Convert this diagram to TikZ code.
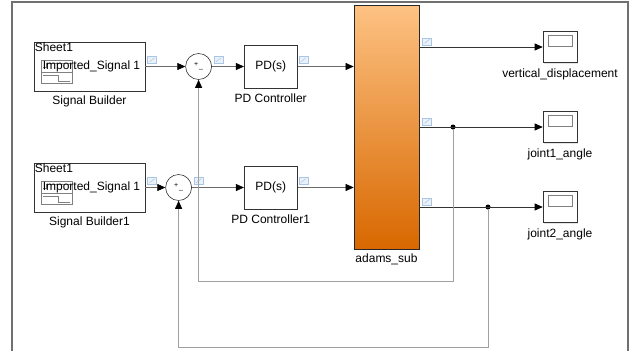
\documentclass[tikz,border=0pt]{standalone}
\usepackage{fontspec}
\setmainfont{Liberation Sans}
\usetikzlibrary{arrows.meta, positioning, shadows}
\definecolor{framegray}{HTML}{707070}
\definecolor{linegray}{HTML}{6A6A6A}
\definecolor{outgray}{HTML}{333333}
\definecolor{fbgray}{HTML}{A0A0A0}
\definecolor{portblue}{HTML}{A9C6E6}
\definecolor{adamstop}{HTML}{FDC283}
\definecolor{adamsbot}{HTML}{D86800}
\tikzset{
    block/.style={
        rectangle,
        draw=black!80,
        fill=white,
        line width=0.6pt,
        minimum width=53pt,
        minimum height=43pt,
        font=\fontsize{12}{14}\selectfont,
        drop shadow={opacity=0.2, shadow xshift=1.2pt, shadow yshift=-1.2pt}
    },
    sigbuilder/.style={
        block,
        minimum width=111pt,
        minimum height=49pt,
        path picture={
            \draw[gray, line width=0.5pt] ([shift={(7,18)}]path picture bounding box.north west) rectangle ([shift={(38,41)}]path picture bounding box.north west);
            \draw[gray, line width=0.5pt] ([shift={(7,30)}]path picture bounding box.north west) -- ([shift={(38,30)}]path picture bounding box.north west);
            \draw[gray, line width=0.5pt] ([shift={(9,25)}]path picture bounding box.north west) -- ([shift={(12,25)}]path picture bounding box.north west) -- ([shift={(12,21)}]path picture bounding box.north west) -- ([shift={(36,21)}]path picture bounding box.north west);
            \draw[gray, line width=0.5pt] ([shift={(9,33)}]path picture bounding box.north west) -- ([shift={(24,33)}]path picture bounding box.north west) -- ([shift={(24,39)}]path picture bounding box.north west) -- ([shift={(36,39)}]path picture bounding box.north west);
        }
    },
    scopebox/.style={
        block,
        minimum width=34pt,
        minimum height=31pt,
        path picture={
            \draw[gray, line width=0.6pt] ([shift={(5,4)}]path picture bounding box.north west) rectangle ([shift={(29,15)}]path picture bounding box.north west);
        }
    },
    adamsblock/.style={
        rectangle,
        draw=black!85,
        line width=0.7pt,
        top color=adamstop,
        bottom color=adamsbot,
        minimum width=65pt,
        minimum height=244pt,
        drop shadow={opacity=0.2, shadow xshift=1.2pt, shadow yshift=-1.2pt}
    },
    sum/.style={
        circle,
        draw=black!80,
        fill=white,
        line width=0.6pt,
        minimum size=26pt,
        inner sep=0pt,
        font=\fontsize{7}{8}\selectfont
    },
    port/.style={
        rectangle,
        draw=portblue,
        fill=portblue!25,
        line width=0.5pt,
        minimum width=9pt,
        minimum height=7pt,
        inner sep=0pt,
        path picture={
            \draw[portblue, line width=0.5pt] ([shift={(2,-1.5)}]path picture bounding box.south west) -- ([shift={(-2,1.5)}]path picture bounding box.north east);
        }
    },
    caption/.style={font=\fontsize{12}{14}\selectfont, inner sep=1pt},
    dot/.style={circle, fill=black, minimum size=5pt, inner sep=0pt},
    arrow/.style={
        draw=linegray, line width=0.6pt,
        -{Triangle[length=8pt,width=7pt,color=black]}
    },
    outarrow/.style={arrow, draw=outgray},
    fbarrow/.style={arrow, draw=fbgray}
}

\begin{document}
\begin{tikzpicture}[x=1pt, y=-1pt]

\useasboundingbox (0,0) rectangle (634,351);
\draw[framegray, line width=1.2pt] (12,351) -- (12,2) -- (628,2) -- (628,351);

% first loop
\node (sb1) [sigbuilder] at (89.5,66.5) {};
\node (sheet1) [caption, anchor=north west] at (sb1.north west) {Sheet1};
\node (imp1) [caption] at ([xshift=2pt]sb1.center) {Imported\_Signal 1};
\node (sb1label) [caption, below=3pt of sb1] {Signal Builder};
\node (sum1) [sum, right=40pt of sb1] {+\hspace{1pt}\raisebox{-2pt}{\_}};
\node (pd1) [block, right=32pt of sum1] {PD(s)};
\node (pd1label) [caption, below=4pt of pd1] {PD Controller};

% second loop
\node (sb2) [sigbuilder] at (89.5,187.5) {};
\node (sheet2) [caption, anchor=north west] at (sb2.north west) {Sheet1};
\node (imp2) [caption] at ([xshift=2pt]sb2.center) {Imported\_Signal 1};
\node (sb2label) [caption, below=3pt of sb2] {Signal Builder1};
\node (sum2) [sum, right=20pt of sb2] {+\hspace{1pt}\raisebox{-2pt}{\_}};
\node (pd2) [block, right=52pt of sum2] {PD(s)};
\node (pd2label) [caption, below=4pt of pd2] {PD Controller1};

% plant and scopes
\node (adams) [adamsblock] at (386.5,127) {};
\node (adamslabel) [caption, below=3pt of adams] {adams\_sub};
\node (scope1) [scopebox] at (560,47) {};
\node (scope2) [scopebox] at (560,127) {};
\node (scope3) [scopebox] at (560,207) {};
\node (scope1label) [caption, below=5pt of scope1] {vertical\_displacement};
\node (scope2label) [caption, below=5pt of scope2] {joint1\_angle};
\node (scope3label) [caption, below=5pt of scope3] {joint2\_angle};

% port markers
\node (p1) [port, above right=3pt and 2pt of sb1.east] {};
\node (p2) [port, above right=3pt and 2pt of sum1.east] {};
\node (p3) [port, above right=3pt and 1pt of pd1.east] {};
\node (p4) [port, above right=3pt and 2pt of sb2.east] {};
\node (p5) [port, above right=3pt and 2pt of sum2.east] {};
\node (p6) [port, above right=3pt and 1pt of pd2.east] {};
\node (p7) [port, above right=2pt and 3pt of adams.east |- scope1.west] {};
\node (p8) [port, above right=2pt and 3pt of adams.east |- scope2.west] {};
\node (p9) [port, above right=2pt and 3pt of adams.east |- scope3.west] {};

% branch points
\node (j1) [dot] at (453,127) {};
\node (j2) [dot] at (488,207) {};
\coordinate (fb1) at (453,281);
\coordinate (fb2) at (488,347);

\draw [arrow] (sb1) -- (sum1);
\draw [arrow] (sum1) -- (pd1);
\draw [arrow] (pd1.east) -- (pd1.east -| adams.west);
\draw [arrow] (sb2) -- (sum2);
\draw [arrow] (sum2) -- (pd2);
\draw [arrow] (pd2.east) -- (pd2.east -| adams.west);

\draw [outarrow] (adams.east |- scope1.west) -- (scope1.west);
\draw [outarrow] (adams.east |- scope2.west) -- (scope2.west);
\draw [outarrow] (adams.east |- scope3.west) -- (scope3.west);

\draw [fbarrow] (j1) -- (fb1) -| (sum1.south);
\draw [fbarrow] (j2) -- (fb2) -| (sum2.south);

\end{tikzpicture}
\end{document}
